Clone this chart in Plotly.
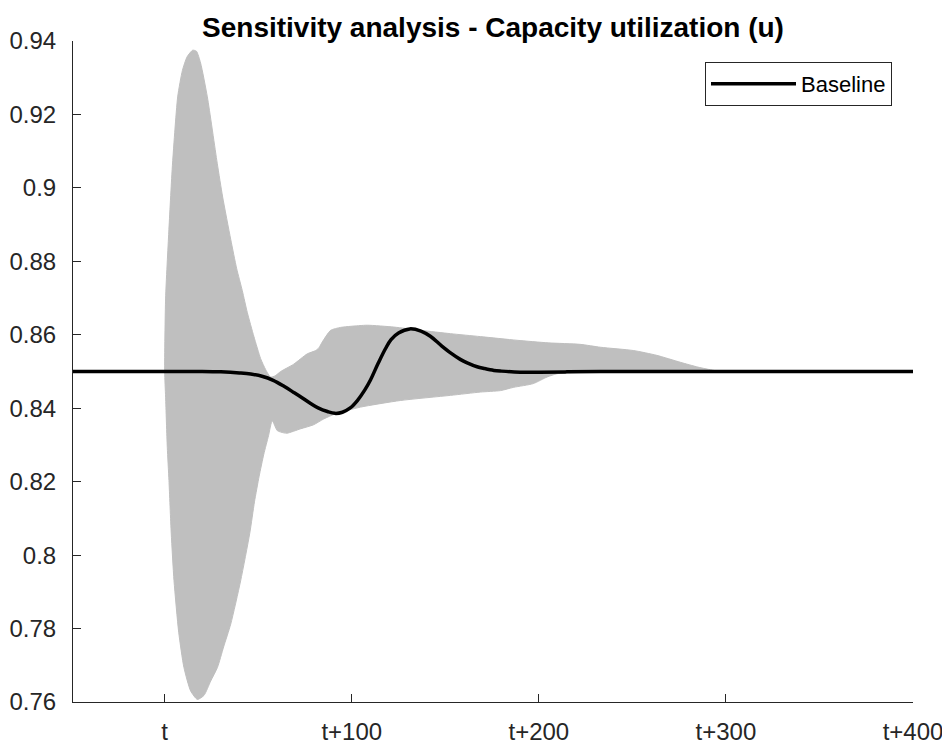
import plotly.graph_objects as go

# ---- data ----
# Baseline run
base_x = [-49, -20, 0, 20, 30, 40, 46, 52, 58, 64, 69, 73, 78, 82, 87, 91, 95, 99, 103,
          107, 110, 114, 118, 121, 125, 131, 137, 142, 148, 153, 158, 162, 167, 171,
          176, 180, 190, 200, 215, 233, 260, 300, 350, 400]
base_y = [0.85, 0.85, 0.85, 0.85, 0.8499, 0.8496, 0.8493, 0.8487, 0.8476, 0.8459, 0.8443,
          0.8430, 0.8413, 0.8401, 0.8391, 0.8386, 0.8389, 0.8400, 0.8421, 0.8450, 0.8477,
          0.8521, 0.8562, 0.8587, 0.8605, 0.8616, 0.8610, 0.8596, 0.8570, 0.8550, 0.8533,
          0.8523, 0.8513, 0.8508, 0.8503, 0.8501, 0.8498, 0.8498, 0.8499, 0.85, 0.85,
          0.85, 0.85, 0.85]

# Upper envelope of the sensitivity runs
up_x = [0, 0.5, 2.2, 4.0, 5.5, 7, 9.5, 12, 15, 17, 19.2, 22.8, 28.1, 31, 35.3, 38.5, 41.5,
        44.2, 47.7, 51.3, 54, 56.6, 59, 62, 69, 76.2, 80.7, 82.5, 84.2, 88.7, 94, 99.4,
        108.3, 122.5, 137, 152.8, 168.8, 188.4, 205, 222, 233, 250.7, 263, 275.7, 285,
        293.5, 298]
up_y = [0.850, 0.870, 0.888, 0.905, 0.916, 0.925, 0.932, 0.9357, 0.9375, 0.9372, 0.934,
        0.9248, 0.9067, 0.8975, 0.886, 0.878, 0.872, 0.866, 0.8595, 0.8535, 0.8505, 0.8485,
        0.8488, 0.8500, 0.8520, 0.8548, 0.8557, 0.8565, 0.8580, 0.8612, 0.8620, 0.8623,
        0.8626, 0.8621, 0.8612, 0.8603, 0.8595, 0.8585, 0.8578, 0.8574, 0.8566, 0.8557,
        0.8544, 0.8525, 0.8512, 0.8503, 0.8500]

# Lower envelope of the sensitivity runs
lo_x = [0, 0.5, 1.4, 2.3, 3.5, 5, 7.5, 10.3, 13.9, 17.5, 21, 24.6, 28.2, 31.5, 35.3, 40.6,
        45.5, 48, 50.5, 53, 55.5, 57.5, 60.2, 63.6, 65.5, 72.7, 79.6, 85.1, 91.4, 104.7,
        126, 152.8, 168.8, 179.5, 186.6, 197, 204.4, 209.8, 220, 260, 298]
lo_y = [0.850, 0.843, 0.8294, 0.8203, 0.806, 0.793, 0.779, 0.7694, 0.763, 0.7607, 0.7618,
        0.7657, 0.7694, 0.775, 0.7812, 0.793, 0.806, 0.8145, 0.8215, 0.8275, 0.8325,
        0.8366, 0.8339, 0.8333, 0.8332, 0.8344, 0.8355, 0.8371, 0.8385, 0.8403, 0.8421,
        0.8435, 0.8444, 0.8448, 0.8457, 0.8467, 0.8485, 0.8494, 0.8497, 0.8499, 0.8500]

x_tickvals = [0, 100, 200, 300, 400]
x_ticktext = ["t", "t+100", "t+200", "t+300", "t+400"]
y_tickvals = [0.76, 0.78, 0.80, 0.82, 0.84, 0.86, 0.88, 0.90, 0.92, 0.94]
y_ticktext = ["0.76", "0.78", "0.8", "0.82", "0.84", "0.86", "0.88", "0.9", "0.92", "0.94"]

GRAY = "#bfbfbf"
AXIS = "#262626"
FONT = "Liberation Sans, Arial, sans-serif"

# The page body keeps an 8 px default margin, so the figure is sized to fit the window.
FIG_W, FIG_H = 942, 739

fig = go.Figure()

# Sensitivity band (area spanned by all runs)
fig.add_trace(go.Scatter(
    x=up_x + lo_x[::-1], y=up_y + lo_y[::-1],
    mode="lines", fill="toself", fillcolor=GRAY,
    line=dict(color=GRAY, width=1, shape="spline", smoothing=0.6),
    showlegend=False, hoverinfo="skip"))

# Baseline
fig.add_trace(go.Scatter(
    x=base_x, y=base_y, mode="lines", name="Baseline",
    line=dict(color="black", width=3.5, shape="spline", smoothing=1.0)))

fig.update_layout(
    width=FIG_W, height=FIG_H,
    paper_bgcolor="white", plot_bgcolor="white",
    margin=dict(l=65, r=37, t=33, b=45, autoexpand=False),
    font=dict(family=FONT, color=AXIS, size=24),
    title=dict(text="<b>Sensitivity analysis - Capacity utilization (u)</b>",
               x=0.5, xref="paper", xanchor="center",
               y=1 - 19 / FIG_H, yref="container", yanchor="middle",
               font=dict(family=FONT, size=28, color="black")),
    legend=dict(x=(892 - 73) / 840, xanchor="right", y=1 - (62 - 41) / 661, yanchor="top",
                bgcolor="white", bordercolor=AXIS, borderwidth=1,
                font=dict(family=FONT, size=22, color="black"),
                itemwidth=85),
    showlegend=True,
)

fig.update_xaxes(range=[-49, 400], tickvals=x_tickvals, ticktext=x_ticktext,
                 ticks="inside", ticklen=8, tickcolor=AXIS, tickwidth=1,
                 showline=True, linecolor=AXIS, linewidth=1, mirror=False,
                 showgrid=False, zeroline=False, ticklabelstandoff=8, automargin=False)
fig.update_yaxes(range=[0.76, 0.94], tickvals=y_tickvals, ticktext=y_ticktext,
                 ticks="inside", ticklen=8, tickcolor=AXIS, tickwidth=1,
                 showline=True, linecolor=AXIS, linewidth=1, mirror=False,
                 showgrid=False, zeroline=False, ticklabelstandoff=11, automargin=False)

fig.write_html("out.html")
